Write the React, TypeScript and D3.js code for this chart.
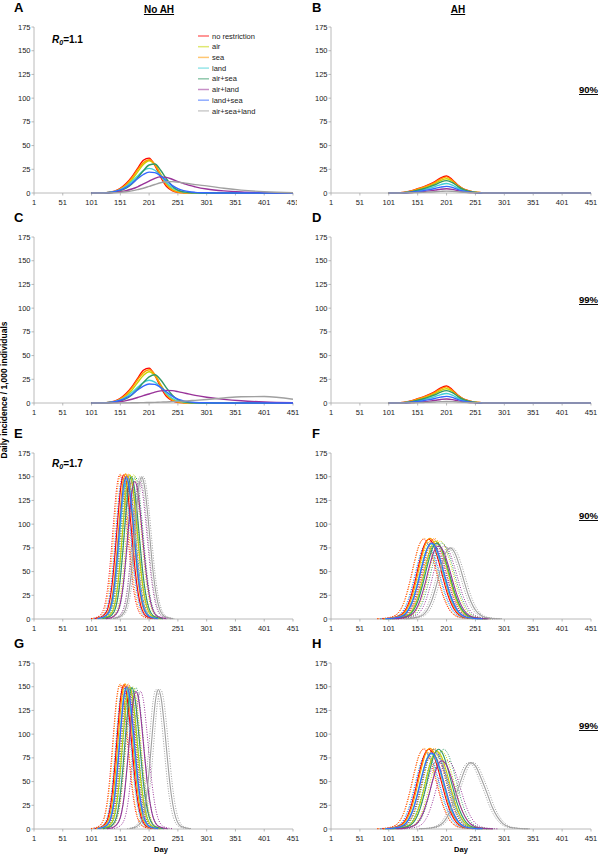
import * as React from 'react';
import * as d3 from 'd3';

type Pt = [number, number];

const SERIES = ['no restriction', 'air', 'sea', 'land', 'air+sea', 'air+land', 'land+sea', 'air+sea+land'];
const COLORS = ['#FF0000', '#C4D600', '#FF9900', '#40CFD6', '#339966', '#993399', '#3366FF', '#A0A0A0'];
const X_TICKS = [1, 51, 101, 151, 201, 251, 301, 351, 401, 451];
const Y_TICKS = [0, 25, 50, 75, 100, 125, 150, 175];

// R0 = 1.1 rows share one day grid
const DAYS_LOW = [101, 121, 131, 141, 151, 161, 171, 181, 191, 201, 211, 221, 231, 241, 251, 261, 271, 281, 301, 331, 361, 401, 451];

const A_VALUES = [
  [0, 0.2, 0.7, 2, 5, 10, 17, 26, 34.5, 36.8, 29, 17, 7, 2.5, 0.8, 0.3, 0.1, 0, 0, 0, 0, 0, 0],
  [0, 0.1, 0.5, 1.5, 4, 8, 14, 22, 30, 34, 30, 20, 10, 4, 1.3, 0.4, 0.1, 0, 0, 0, 0, 0, 0],
  [0, 0.2, 0.6, 1.8, 4.5, 9, 16, 24.5, 32, 35, 30, 19, 8.5, 3, 1, 0.3, 0.1, 0, 0, 0, 0, 0, 0],
  [0, 0.2, 0.6, 1.6, 3.5, 7, 12, 18, 23.5, 26, 24, 18, 11, 5.5, 2.5, 1, 0.4, 0.2, 0, 0, 0, 0, 0],
  [0, 0.1, 0.3, 1, 2.5, 5, 9.5, 16, 23.5, 29.5, 30.5, 24, 15, 7.5, 3, 1.2, 0.5, 0.2, 0, 0, 0, 0, 0],
  [0, 0.1, 0.3, 0.7, 1.4, 2.5, 4.2, 6.5, 9.5, 12.5, 15.5, 17, 16.5, 14.5, 12, 10, 8, 6.5, 4.2, 2.2, 1.1, 0.4, 0.1],
  [0, 0.2, 0.6, 1.5, 3.2, 6, 10, 15, 19.5, 22, 21.5, 18, 13, 8, 4.5, 2.5, 1.3, 0.7, 0.2, 0, 0, 0, 0],
  [0, 0, 0.1, 0.3, 0.7, 1.3, 2.2, 3.5, 5, 7, 9, 10.8, 11.8, 12, 11.5, 10.7, 9.8, 8.8, 7.5, 5, 3, 1.3, 0.3],
];

const B_VALUES = [
  [0, 0.3, 1, 2.5, 4.5, 6.5, 9, 12, 16, 18, 14, 8, 4, 2, 0.9, 0.4, 0.2, 0.1, 0, 0, 0, 0, 0],
  [0, 0.2, 0.7, 1.8, 3.5, 5.2, 7.4, 10, 13.3, 15, 12.5, 7.5, 3.8, 1.8, 0.8, 0.4, 0.2, 0, 0, 0, 0, 0, 0],
  [0, 0.3, 0.9, 2.3, 4.2, 6.1, 8.5, 11.3, 15, 17, 13.2, 7.5, 3.8, 1.9, 0.8, 0.4, 0.2, 0.1, 0, 0, 0, 0, 0],
  [0, 0.1, 0.5, 1.2, 2.3, 3.5, 5, 6.8, 8.9, 10, 8.3, 5, 2.6, 1.2, 0.5, 0.2, 0.1, 0, 0, 0, 0, 0, 0],
  [0, 0.2, 0.6, 1.5, 3, 4.5, 6.4, 8.7, 11.5, 13, 11, 6.8, 3.5, 1.6, 0.7, 0.3, 0.1, 0, 0, 0, 0, 0, 0],
  [0, 0.1, 0.2, 0.6, 1.1, 1.6, 2.2, 3, 4, 4.5, 3.8, 2.4, 1.3, 0.6, 0.3, 0.1, 0, 0, 0, 0, 0, 0, 0],
  [0, 0.1, 0.3, 0.8, 1.6, 2.4, 3.5, 4.8, 6.2, 7, 5.9, 3.6, 1.9, 0.9, 0.4, 0.2, 0.1, 0, 0, 0, 0, 0, 0],
  [0, 0, 0.1, 0.3, 0.5, 0.7, 1, 1.3, 1.7, 2, 1.8, 1.3, 0.8, 0.4, 0.2, 0.1, 0, 0, 0, 0, 0, 0, 0],
];

const C_VALUES = [
  [0, 0.2, 0.7, 2, 5, 10, 17, 26, 34.5, 36.8, 29, 17, 7, 2.5, 0.8, 0.3, 0.1, 0, 0, 0, 0, 0, 0],
  [0, 0.1, 0.5, 1.5, 3.8, 7.7, 13.5, 21.5, 29, 33, 29, 19.5, 10, 4, 1.3, 0.4, 0.1, 0, 0, 0, 0, 0, 0],
  [0, 0.2, 0.6, 1.8, 4.5, 9, 16, 24.5, 32, 35, 30, 19, 8.5, 3, 1, 0.3, 0.1, 0, 0, 0, 0, 0, 0],
  [0, 0.2, 0.55, 1.5, 3.2, 6.4, 11, 16.5, 21.6, 24, 22, 16.5, 10, 5, 2.3, 0.9, 0.4, 0.2, 0, 0, 0, 0, 0],
  [0, 0.1, 0.3, 0.9, 2.2, 4.5, 8.5, 14.5, 21.5, 27.5, 29.8, 24.5, 16, 8.5, 3.5, 1.4, 0.5, 0.2, 0, 0, 0, 0, 0],
  [0, 0.1, 0.3, 0.7, 1.5, 2.5, 4, 5.8, 7.8, 9.5, 11.5, 12.8, 13.3, 13, 12, 10.7, 9.3, 8, 6, 3.8, 2.3, 1.1, 0.3],
  [0, 0.2, 0.5, 1.4, 2.9, 5.5, 9, 13.7, 17.8, 20, 19.6, 16.4, 11.8, 7.3, 4.1, 2.3, 1.2, 0.6, 0.2, 0, 0, 0, 0],
  [0, 0, 0, 0, 0.1, 0.15, 0.2, 0.3, 0.4, 0.5, 0.7, 0.9, 1.1, 1.4, 1.7, 2, 2.4, 2.8, 3.7, 5.3, 6.6, 6.8, 4],
];

const D_VALUES = [
  [0, 0.3, 1, 2.5, 4.5, 6.5, 9, 12, 16, 18, 14, 8, 4, 2, 0.9, 0.4, 0.2, 0.1, 0, 0, 0, 0, 0],
  [0, 0.2, 0.7, 1.8, 3.5, 5.2, 7.4, 10, 13.3, 15, 12.5, 7.5, 3.8, 1.8, 0.8, 0.4, 0.2, 0, 0, 0, 0, 0, 0],
  [0, 0.3, 0.9, 2.3, 4.2, 6.1, 8.5, 11.3, 15, 17, 13.2, 7.5, 3.8, 1.9, 0.8, 0.4, 0.2, 0.1, 0, 0, 0, 0, 0],
  [0, 0.1, 0.5, 1.2, 2.3, 3.5, 5, 6.8, 8.9, 10, 8.3, 5, 2.6, 1.2, 0.5, 0.2, 0.1, 0, 0, 0, 0, 0, 0],
  [0, 0.2, 0.6, 1.5, 3, 4.5, 6.4, 8.7, 11.5, 13, 11, 6.8, 3.5, 1.6, 0.7, 0.3, 0.1, 0, 0, 0, 0, 0, 0],
  [0, 0.1, 0.2, 0.5, 1, 1.5, 2, 2.8, 3.7, 4.2, 3.6, 2.3, 1.3, 0.6, 0.3, 0.1, 0, 0, 0, 0, 0, 0, 0],
  [0, 0.1, 0.3, 0.8, 1.6, 2.4, 3.5, 4.8, 6.2, 7, 5.9, 3.6, 1.9, 0.9, 0.4, 0.2, 0.1, 0, 0, 0, 0, 0, 0],
  [0, 0, 0.1, 0.2, 0.4, 0.6, 0.8, 1.1, 1.4, 1.6, 1.5, 1.1, 0.7, 0.4, 0.2, 0.1, 0, 0, 0, 0, 0, 0, 0],
];

// R0 = 1.7 rows: [day, incidence] per series (mean run)
const E_CURVES: Pt[][] = [
  [[107, 0.5], [117, 1.8], [127, 7.6], [137, 38], [142, 70], [147, 108], [152, 140], [157, 152], [162, 142], [167, 115.5], [172, 82], [177, 50], [187, 13], [197, 2.7], [212, 0.3]],
  [[117, 0.5], [127, 1.8], [137, 7.6], [147, 38], [152, 70], [157, 108], [162, 140], [167, 152], [172, 142], [177, 115.5], [182, 82], [187, 50], [197, 13], [207, 2.7], [222, 0.3]],
  [[110, 0.5], [120, 1.8], [130, 7.7], [140, 38], [145, 70], [150, 109], [155, 141], [160, 153], [165, 143], [170, 116], [175, 83], [180, 50.5], [190, 13], [200, 2.8], [215, 0.3]],
  [[112, 0.4], [122, 1.8], [132, 7.4], [142, 37], [147, 68], [152, 105], [157, 136], [162, 148], [167, 138], [172, 112.5], [177, 80], [182, 49], [192, 12.6], [202, 2.7], [217, 0.3]],
  [[120, 0.5], [130, 1.8], [140, 7.5], [150, 37.5], [155, 69], [160, 106.5], [165, 138], [170, 150], [175, 140], [180, 114], [185, 81], [190, 49.5], [200, 12.8], [210, 2.7], [225, 0.3]],
  [[126, 0.4], [136, 1.7], [146, 7.3], [156, 36], [161, 67], [166, 103], [171, 133], [176, 145], [181, 136], [186, 110], [191, 78], [196, 48], [206, 12.3], [216, 2.6], [231, 0.3]],
  [[111, 0.5], [121, 1.8], [131, 7.5], [141, 37.5], [146, 69], [151, 106.5], [156, 138], [161, 150], [166, 140], [171, 114], [176, 81], [181, 49.5], [191, 12.8], [201, 2.7], [216, 0.3]],
  [[138, 0.5], [148, 1.8], [158, 7.5], [168, 37.5], [173, 69], [178, 106.5], [183, 138], [188, 150], [193, 140], [198, 114], [203, 81], [208, 49.5], [218, 12.8], [228, 2.7], [243, 0.3]],
];
const E_EARLY = [-7, -7, -8, -6, -6, -6, -6, -3];
const E_LATE = [6, 7, 6, 6, 7, 8, 6, 3];

const F_CURVES: Pt[][] = [
  [[90, 0.3], [106, 1], [122, 4.2], [138, 21], [146, 38.6], [154, 59.6], [162, 77.3], [170, 84], [178, 78.5], [186, 63.8], [194, 45.4], [202, 27.7], [218, 7.1], [234, 1.5], [258, 0.2]],
  [[102, 0.2], [118, 1], [134, 4.1], [150, 20.5], [158, 37.7], [166, 58.2], [174, 75.4], [182, 82], [190, 76.7], [198, 62.3], [206, 44.3], [214, 27], [230, 7], [246, 1.5], [270, 0.2]],
  [[92, 0.3], [108, 1], [124, 4.3], [140, 21.3], [148, 39.1], [156, 60.4], [164, 78.2], [172, 85], [180, 79.5], [188, 64.6], [196, 45.9], [204, 28], [220, 7.2], [236, 1.5], [260, 0.2]],
  [[94, 0.2], [110, 0.9], [126, 4], [142, 19.8], [150, 36.3], [158, 56.1], [166, 72.7], [174, 79], [182, 73.9], [190, 60], [198, 42.7], [206, 26], [222, 6.7], [238, 1.4], [262, 0.2]],
  [[104, 0.2], [120, 1], [136, 4], [152, 20], [160, 36.8], [168, 56.8], [176, 73.6], [184, 80], [192, 74.8], [200, 60.8], [208, 43.2], [216, 26.4], [232, 6.8], [248, 1.4], [272, 0.2]],
  [[107, 0.2], [123, 0.9], [139, 3.9], [155, 19.3], [163, 35.4], [171, 54.7], [179, 70.8], [187, 77], [195, 72], [203, 58.5], [211, 41.6], [219, 25.4], [235, 6.5], [251, 1.4], [275, 0.2]],
  [[95, 0.2], [111, 1], [127, 4], [143, 20], [151, 36.8], [159, 56.8], [167, 73.6], [175, 80], [183, 74.8], [191, 60.8], [199, 43.2], [207, 26.4], [223, 6.8], [239, 1.4], [263, 0.2]],
  [[127, 0.2], [143, 0.9], [159, 3.8], [175, 18.8], [183, 34.5], [191, 53.3], [199, 69], [207, 75], [215, 70.1], [223, 57], [231, 40.5], [239, 24.8], [255, 6.4], [271, 1.4], [295, 0.2]],
];
const F_EARLY = [-9, -9, -10, -8, -8, -8, -8, -4];
const F_LATE = [8, 8, 8, 8, 9, 10, 8, 4];

const G_CURVES: Pt[][] = [
  [[107, 0.5], [117, 1.8], [127, 7.6], [137, 38], [142, 70], [147, 108], [152, 140], [157, 152], [162, 142], [167, 115.5], [172, 82], [177, 50], [187, 13], [197, 2.7], [212, 0.3]],
  [[117, 0.5], [127, 1.8], [137, 7.5], [147, 37.5], [152, 69], [157, 106.5], [162, 138], [167, 150], [172, 140], [177, 114], [182, 81], [187, 49.5], [197, 12.8], [207, 2.7], [222, 0.3]],
  [[109, 0.5], [119, 1.8], [129, 7.7], [139, 38], [144, 70], [149, 109], [154, 141], [159, 153], [164, 143], [169, 116], [174, 83], [179, 50.5], [189, 13], [199, 2.8], [214, 0.3]],
  [[111, 0.4], [121, 1.8], [131, 7.4], [141, 37], [146, 68], [151, 105], [156, 136], [161, 148], [166, 138], [171, 112.5], [176, 80], [181, 49], [191, 12.6], [201, 2.7], [216, 0.3]],
  [[121, 0.4], [131, 1.8], [141, 7.5], [151, 37.3], [156, 68.5], [161, 105.8], [166, 137], [171, 149], [176, 139.3], [181, 113.2], [186, 80.5], [191, 49.2], [201, 12.7], [211, 2.7], [226, 0.3]],
  [[128, 0.4], [138, 1.7], [148, 7.3], [158, 36], [163, 67], [168, 103], [173, 133], [178, 145], [183, 136], [188, 110], [193, 78], [198, 48], [208, 12.3], [218, 2.6], [233, 0.3]],
  [[112, 0.5], [122, 1.8], [132, 7.5], [142, 37.5], [147, 69], [152, 106.5], [157, 138], [162, 150], [167, 140], [172, 114], [177, 81], [182, 49.5], [192, 12.8], [202, 2.7], [217, 0.3]],
  [[167, 0.4], [177, 1.8], [187, 7.4], [197, 36.8], [202, 67.6], [207, 104.4], [212, 135.2], [217, 147], [222, 137.4], [227, 111.7], [232, 79.4], [237, 48.5], [247, 12.5], [257, 2.6], [272, 0.3]],
];
const G_EARLY = [-7, -7, -8, -6, -6, -6, -6, -4];
const G_LATE = [6, 6, 6, 6, 7, 8, 6, 4];

const H_CURVES: Pt[][] = [
  [[90, 0.3], [106, 1], [122, 4.2], [138, 21], [146, 38.6], [154, 59.6], [162, 77.3], [170, 84], [178, 78.5], [186, 63.8], [194, 45.4], [202, 27.7], [218, 7.1], [234, 1.5], [258, 0.2]],
  [[104, 0.2], [120, 1], [136, 4.1], [152, 20.5], [160, 37.7], [168, 58.2], [176, 75.4], [184, 82], [192, 76.7], [200, 62.3], [208, 44.3], [216, 27], [232, 7], [248, 1.5], [272, 0.2]],
  [[92, 0.3], [108, 1], [124, 4.3], [140, 21.3], [148, 39.1], [156, 60.4], [164, 78.2], [172, 85], [180, 79.5], [188, 64.6], [196, 45.9], [204, 28], [220, 7.2], [236, 1.5], [260, 0.2]],
  [[94, 0.2], [110, 0.9], [126, 4], [142, 19.8], [150, 36.3], [158, 56.1], [166, 72.7], [174, 79], [182, 73.9], [190, 60], [198, 42.7], [206, 26], [222, 6.7], [238, 1.4], [262, 0.2]],
  [[107, 0.3], [123, 1], [139, 4.2], [155, 21], [163, 38.6], [171, 59.6], [179, 77.3], [187, 84], [195, 78.5], [203, 63.8], [211, 45.4], [219, 27.7], [235, 7.1], [251, 1.5], [275, 0.2]],
  [[113, 0.2], [129, 0.9], [145, 3.6], [161, 18], [169, 33.1], [177, 51.1], [185, 66.2], [193, 72], [201, 67.3], [209, 54.7], [217, 38.9], [225, 23.8], [241, 6.1], [257, 1.3], [281, 0.1]],
  [[95, 0.2], [111, 1], [127, 4], [143, 20], [151, 36.8], [159, 56.8], [167, 73.6], [175, 80], [183, 74.8], [191, 60.8], [199, 43.2], [207, 26.4], [223, 6.8], [239, 1.4], [263, 0.2]],
  [[153, 0.2], [171, 0.8], [188, 3.5], [206, 17.5], [215, 32.2], [225, 49.7], [234, 64.4], [243, 70], [252, 65.5], [261, 53.2], [271, 37.8], [280, 23.1], [298, 6], [315, 1.3], [343, 0.1]],
];
const H_EARLY = [-9, -9, -10, -8, -8, -8, -8, -4];
const H_LATE = [8, 8, 8, 8, 9, 10, 8, 4];

const FONT = "'Liberation Sans', Arial, sans-serif";

function onGrid(values: number[][]): Pt[][] {
  return values.map((vals) => vals.map((v, i) => [DAYS_LOW[i], v] as Pt));
}

interface PanelProps {
  left: boolean;
  top: number;
  letter: string;
  curves: Pt[][];
  early?: number[];
  late?: number[];
  pct?: string;
  clipId?: string;
}

function Panel({ left, top, letter, curves, early, late, pct, clipId }: PanelProps) {
  const x0 = left ? 34 : 331;
  const x1 = left ? 293 : 591;
  const x = d3.scaleLinear().domain([1, 451]).range([x0, x1]);
  const y = d3.scaleLinear().domain([0, 175]).range([top + 166, top]);
  const line = d3
    .line<Pt>()
    .x((d) => x(d[0]))
    .y((d) => y(d[1]))
    .curve(d3.curveMonotoneX);
  const base = y(0);

  return (
    <g>
      <text x={left ? 14 : 312} y={top - 15} fontSize={13} fontWeight="bold" fontFamily={FONT}>
        {letter}
      </text>
      {/* axes */}
      <line x1={x0} x2={x0} y1={top} y2={base} stroke="#A8A8A8" strokeWidth={0.8} />
      <line x1={x0} x2={x1} y1={base} y2={base} stroke="#A8A8A8" strokeWidth={0.8} />
      {Y_TICKS.map((t) => (
        <g key={t}>
          <line x1={x0 - 2.5} x2={x0} y1={y(t)} y2={y(t)} stroke="#A8A8A8" strokeWidth={0.8} />
          <text x={x0 - 3.5} y={y(t) + 2.6} fontSize={7.5} textAnchor="end" fill="#222" fontFamily={FONT}>
            {t}
          </text>
        </g>
      ))}
      <g clipPath={clipId ? `url(#${clipId})` : undefined}>
        {X_TICKS.map((t) => (
          <g key={t}>
            <line x1={x(t)} x2={x(t)} y1={base} y2={base + 2.5} stroke="#A8A8A8" strokeWidth={0.8} />
            <text x={x(t)} y={base + 12} fontSize={7.5} textAnchor="middle" fill="#222" fontFamily={FONT}>
              {t}
            </text>
          </g>
        ))}
      </g>
      {/* dotted spread of runs */}
      {early &&
        late &&
        curves.map((pts, i) =>
          [early[i], late[i]].map((s, j) => (
            <path
              key={`d${i}-${j}`}
              d={line(pts.map((p) => [p[0] + s, p[1]] as Pt)) || ''}
              fill="none"
              stroke={COLORS[i]}
              strokeWidth={1}
              strokeDasharray="1,1.5"
            />
          ))
        )}
      {curves.map((pts, i) => (
        <path key={i} d={line(pts) || ''} fill="none" stroke={COLORS[i]} strokeWidth={early ? 1.1 : 1.4} />
      ))}
      {pct && (
        <text
          x={598}
          y={top + 66}
          fontSize={9.5}
          fontWeight="bold"
          textAnchor="end"
          textDecoration="underline"
          fontFamily={FONT}
        >
          {pct}
        </text>
      )}
    </g>
  );
}

function R0Label({ y, value }: { y: number; value: string }) {
  return (
    <text x={52} y={y} fontSize={10} fontWeight="bold" fontFamily={FONT}>
      <tspan fontStyle="italic">R</tspan>
      <tspan fontStyle="italic" fontSize={7} dy={2}>
        0
      </tspan>
      <tspan dy={-2}>{`=${value}`}</tspan>
    </text>
  );
}

export default function App() {
  return (
    <svg
      width={600}
      height={857}
      style={{ position: 'absolute', left: 0, top: 0, background: '#fff' }}
      fontFamily={FONT}
    >
      <defs>
        <clipPath id="clipA">
          <rect x={0} y={0} width={297} height={230} />
        </clipPath>
      </defs>
      <rect width={600} height={857} fill="#fff" />
      <text x={159} y={13} fontSize={10} fontWeight="bold" textAnchor="middle" textDecoration="underline">
        No AH
      </text>
      <text x={458} y={13} fontSize={10} fontWeight="bold" textAnchor="middle" textDecoration="underline">
        AH
      </text>

      <Panel left top={27} letter="A" curves={onGrid(A_VALUES)} clipId="clipA" />
      <Panel left={false} top={27} letter="B" curves={onGrid(B_VALUES)} pct="90%" />
      <Panel left top={237} letter="C" curves={onGrid(C_VALUES)} />
      <Panel left={false} top={237} letter="D" curves={onGrid(D_VALUES)} pct="99%" />
      <Panel left top={453} letter="E" curves={E_CURVES} early={E_EARLY} late={E_LATE} />
      <Panel left={false} top={453} letter="F" curves={F_CURVES} early={F_EARLY} late={F_LATE} pct="90%" />
      <Panel left top={663} letter="G" curves={G_CURVES} early={G_EARLY} late={G_LATE} />
      <Panel left={false} top={663} letter="H" curves={H_CURVES} early={H_EARLY} late={H_LATE} pct="99%" />

      <R0Label y={43} value="1.1" />
      <R0Label y={467} value="1.7" />

      {/* legend */}
      {SERIES.map((s, i) => {
        const ly = 36 + i * 10.7;
        return (
          <g key={s}>
            <line x1={198} x2={209} y1={ly} y2={ly} stroke={COLORS[i]} strokeWidth={1.5} strokeOpacity={0.55} />
            <text x={212} y={ly + 2.6} fontSize={7.5} fill="#222">
              {s}
            </text>
          </g>
        );
      })}

      <text
        transform="translate(7,390) rotate(-90)"
        fontSize={8.5}
        fontWeight="bold"
        textAnchor="middle"
      >
        Daily incidence / 1,000 individuals
      </text>
      <text x={161} y={852} fontSize={7.5} fontWeight="bold" textAnchor="middle">
        Day
      </text>
      <text x={461} y={852} fontSize={7.5} fontWeight="bold" textAnchor="middle">
        Day
      </text>
    </svg>
  );
}
